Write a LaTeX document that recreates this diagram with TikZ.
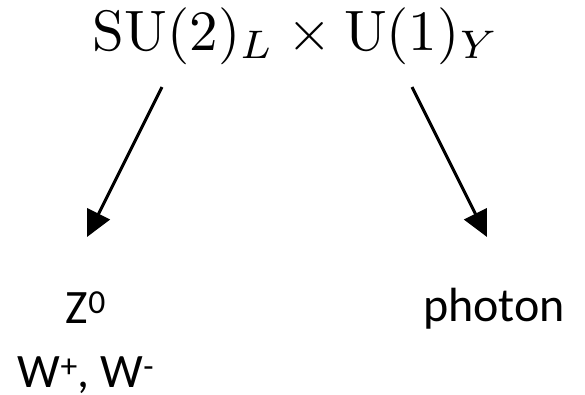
\documentclass[tikz,border=0pt]{standalone}
\usepackage{fontspec}
\newfontfamily\bosonfont{Carlito}
\usepackage{tikz}
\usetikzlibrary{positioning, arrows.meta}

\begin{document}
\begin{tikzpicture}[
    x=1pt, y=-1pt,
    group/.style={inner sep=0pt, anchor=base, font=\fontsize{10}{12}\selectfont, scale=5.7, transform shape},
    boson/.style={inner sep=0pt, anchor=base, align=center, font=\fontsize{48}{64}\selectfont\bosonfont},
    breaks/.style={line width=3pt, -{Triangle[length=26pt, width=25pt]}},
]

\useasboundingbox (0,0) rectangle (585,394);

% Gauge group
\node[group] (gauge) at (296,50) {$\mathrm{SU}(2)_L \times \mathrm{U}(1)_Y$};

% Resulting bosons (base = last line)
\node[boson] (massive) at (86,387) {Z\textsuperscript{0}\\W\textsuperscript{+}, W\textsuperscript{-}};
\node[boson] (photon) at (494,321) {photon};

% Arrow ends
\coordinate (su2) at (162,87);
\coordinate (u1) at (412,87);
\coordinate (massive top) at (87,237);
\coordinate (photon top) at (487,237);

\draw[breaks] (su2) -- (massive top);
\draw[breaks] (u1) -- (photon top);

\end{tikzpicture}
\end{document}
